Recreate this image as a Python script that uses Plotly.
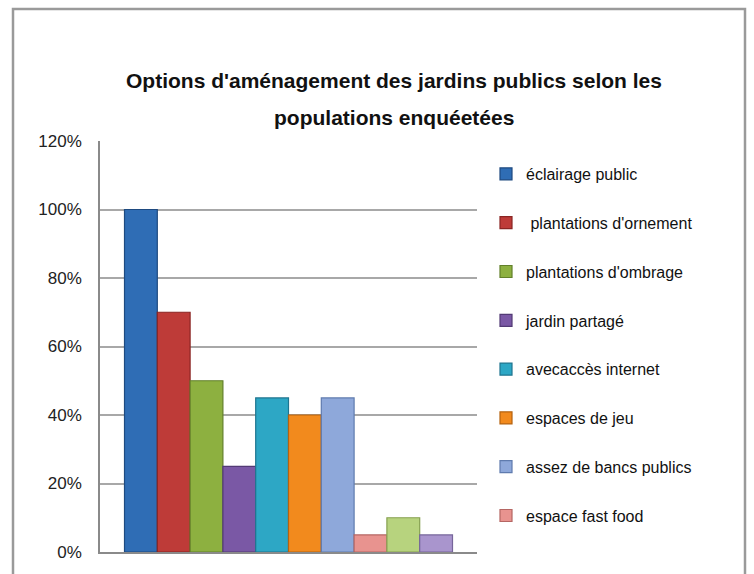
import plotly.graph_objects as go

series_names = [
    "éclairage public",
    " plantations d'ornement",
    "plantations d'ombrage",
    "jardin partagé",
    "avecaccès internet",
    "espaces de jeu",
    "assez de bancs publics",
    "espace fast food",
    "",
    "",
]
values = [1.00, 0.70, 0.50, 0.25, 0.45, 0.40, 0.45, 0.05, 0.10, 0.05]
in_legend = [True] * 8 + [False] * 2
fill_colors = ["#2F6DB5", "#BE3B38", "#8DB040", "#7A58A5", "#2DA7C5",
               "#F28A1D", "#8EA8DA", "#E8938F", "#B7D37E", "#A995CD"]
edge_colors = ["#1E4A80", "#8A2523", "#62802A", "#523A75", "#1E7590",
               "#B5620E", "#5F7BAE", "#B56663", "#86A050", "#76659A"]
tick_vals = [0, 0.2, 0.4, 0.6, 0.8, 1.0, 1.2]
tick_text = ["0%", "20%", "40%", "60%", "80%", "100%", "120%"]
category = ["jardins publics"]
title_lines = ["Options d'aménagement des jardins publics selon les",
               "populations enquéetées"]

fig = go.Figure()
for i, (name, v) in enumerate(zip(series_names, values)):
    fig.add_trace(go.Bar(
        x=category, y=[v], name=name,
        marker=dict(color=fill_colors[i], line=dict(color=edge_colors[i], width=1.2)),
        showlegend=in_legend[i], legendgroup="g%d" % i,
    ))

W, H = 754, 574
L, R, T, B = 100, 277, 141, 22
pw, ph = W - L - R, H - T - B

def px(x):
    return (x - L) / pw

def py(y):
    return (H - B - y) / ph

fig.update_layout(
    width=W, height=H,
    margin=dict(l=L, r=R, t=T, b=B, pad=0),
    paper_bgcolor="white", plot_bgcolor="white",
    barmode="group", bargap=0.13, bargroupgap=0,
    font=dict(family="Liberation Sans, Arial, sans-serif", color="#111"),
    legend=dict(
        x=px(486), xanchor="left", y=py(157), yanchor="top",
        traceorder="grouped", tracegroupgap=25,
        font=dict(size=16, color="#111"),
        bgcolor="rgba(0,0,0,0)", itemwidth=30,
    ),
    showlegend=True,
)
for line, yc in zip(title_lines, [80, 117]):
    fig.add_annotation(text="<b>%s</b>" % line, xref="paper", yref="paper",
                       x=px(394), y=py(yc), xanchor="center", yanchor="middle",
                       showarrow=False, font=dict(size=21, color="#111"))

fig.update_xaxes(showticklabels=False, showline=True, linecolor="#8a8a8a", linewidth=1.5,
                 showgrid=False, zeroline=False)
fig.update_yaxes(range=[0, 1.2], tickvals=tick_vals, ticktext=tick_text,
                 showgrid=True, gridcolor="#a8a8a8", gridwidth=1.5,
                 showline=True, linecolor="#8a8a8a", linewidth=1.5,
                 ticks="", ticklabelstandoff=13,
                 tickfont=dict(size=17, color="#222"), zeroline=False)

fig.add_shape(type="rect", xref="paper", yref="paper",
              x0=px(13), x1=px(745), y0=py(600), y1=py(9),
              line=dict(color="#9a9a9a", width=2.5), fillcolor="rgba(0,0,0,0)",
              layer="below")

fig.write_html("out.html")
